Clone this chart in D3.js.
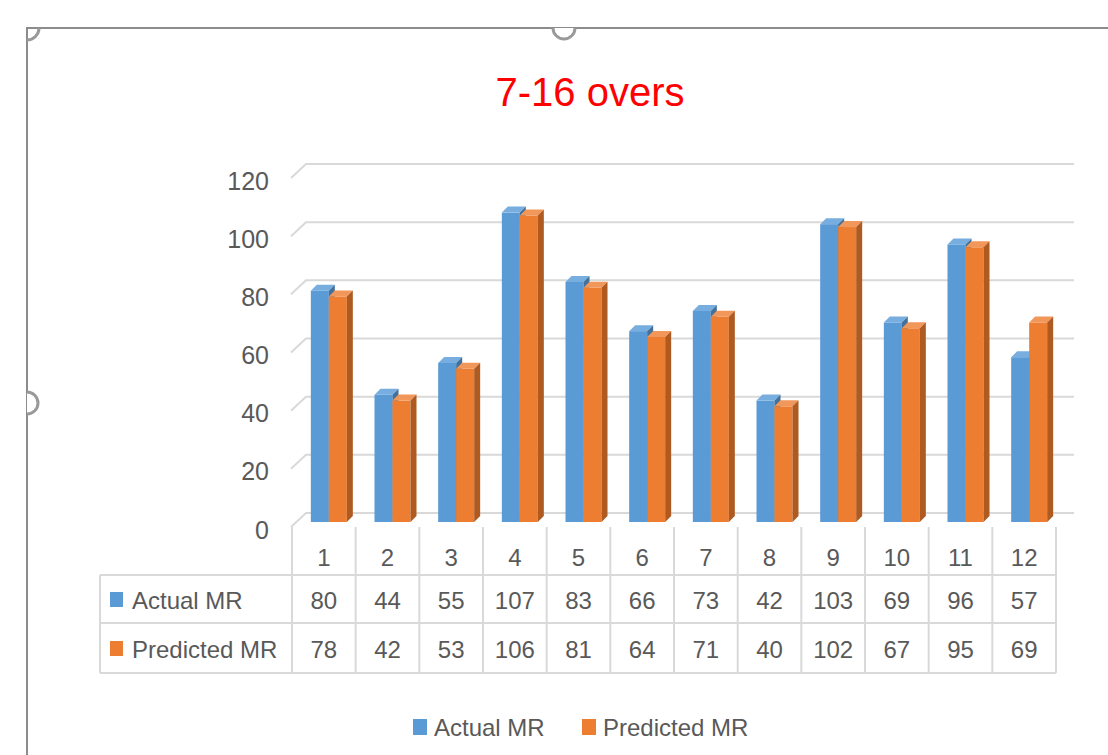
<!DOCTYPE html>
<html>
<head>
<meta charset="utf-8">
<script src="https://cdn.jsdelivr.net/npm/d3@7"></script>
<style>
	body { margin: 0; background: #fff; }
	svg text { font-family: "Liberation Sans", Arial, sans-serif; fill: #595959; }
</style>
</head>
<body>
<div id="picture"></div>
<script>
const categories = ["1", "2", "3", "4", "5", "6", "7", "8", "9", "10", "11", "12"]
	, actual     = [80, 44, 55, 107, 83, 66, 73, 42, 103, 69, 96, 57]
	, predicted  = [78, 42, 53, 106, 81, 64, 71, 40, 102, 67, 95, 69]
	, yTicks     = [0, 20, 40, 60, 80, 100, 120]
	, seriesNames = ["Actual MR", "Predicted MR"];

const width  = 1108
	, height = 755
	, depth  = { dx: 15, dy: -14 }   // wall depth (front -> back)
	, bDepth = { dx: 6,  dy: -6  }   // bar depth
	, barW   = 18
	, textDy = 3;                    // baseline nudge for "middle"

const series = [
	{ name: seriesNames[0], values: actual,    front: "#5b9bd5", top: "#77aedf", side: "#41719c" },
	{ name: seriesNames[1], values: predicted, front: "#ed7d31", top: "#f2975a", side: "#ae5a21" }
];

const svg = d3.select("#picture")
	.append("svg")
		.attr("width", width)
		.attr("height", height);

// scales
const x = d3.scaleBand()
	.domain(categories)
	.range([292, 1056]);
const yWall = d3.scaleLinear()      // front edge of the side wall
	.domain([0, 120])
	.range([527, 178]);
const yBar = d3.scaleLinear()       // front face of the bars
	.domain([0, 120])
	.range([522, 175]);

// gridlines (front edge, diagonal, back wall)
const grid = svg.append("g").attr("class", "grid");
yTicks.forEach(function(t) {
	const y0 = yWall(t);
	grid.append("path")
		.attr("d", "M291," + y0 + "L" + (291 + depth.dx) + "," + (y0 + depth.dy) + "L1074," + (y0 + depth.dy))
		.attr("fill", "none")
		.attr("stroke", "#d9d9d9")
		.attr("stroke-width", 2);
});

// value axis labels
svg.append("g")
	.attr("transform", "translate(269," + textDy + ")")
	.call(d3.axisLeft(yWall).tickValues(yTicks).tickSize(0).tickPadding(0))
	.call(g => g.select(".domain").remove())
	.call(g => g.selectAll("text")
		.attr("fill", "#595959")
		.style("font-size", "25px")
		.style("font-family", "'Liberation Sans', Arial, sans-serif"));

// bars
const bars = svg.append("g").attr("class", "bars");
series.forEach(function(s, i) {
	const g = bars.append("g");
	s.values.forEach(function(v, j) {
		const x0 = x(categories[j]) + x.bandwidth() / 2 - 13 + i * barW
			, y0 = yBar(v)
			, yb = yBar(0);
		g.append("rect")
			.attr("x", x0).attr("y", y0)
			.attr("width", barW).attr("height", yb - y0)
			.attr("fill", s.front);
		g.append("path")
			.attr("d", "M" + x0 + "," + y0 +
				"L" + (x0 + bDepth.dx) + "," + (y0 + bDepth.dy) +
				"L" + (x0 + barW + bDepth.dx) + "," + (y0 + bDepth.dy) +
				"L" + (x0 + barW) + "," + y0 + "Z")
			.attr("fill", s.top);
		g.append("path")
			.attr("d", "M" + (x0 + barW) + "," + y0 +
				"L" + (x0 + barW + bDepth.dx) + "," + (y0 + bDepth.dy) +
				"L" + (x0 + barW + bDepth.dx) + "," + (yb + bDepth.dy) +
				"L" + (x0 + barW) + "," + yb + "Z")
			.attr("fill", s.side);
	});
});

// data table
const rowTop = [527, 575, 623, 673]
	, tableLeft = 100
	, table = svg.append("g").attr("class", "table")
	, lineStyle = sel => sel.attr("stroke", "#d9d9d9").attr("stroke-width", 2);

x.domain().forEach(function(c) {
	table.append("line")
		.attr("x1", x(c)).attr("x2", x(c))
		.attr("y1", rowTop[0]).attr("y2", rowTop[3])
		.call(lineStyle);
});
table.append("line")
	.attr("x1", x.range()[1]).attr("x2", x.range()[1])
	.attr("y1", rowTop[0]).attr("y2", rowTop[3])
	.call(lineStyle);
table.append("line")
	.attr("x1", tableLeft).attr("x2", tableLeft)
	.attr("y1", rowTop[1]).attr("y2", rowTop[3])
	.call(lineStyle);
rowTop.slice(1).forEach(function(y) {
	table.append("line")
		.attr("x1", tableLeft).attr("x2", x.range()[1])
		.attr("y1", y).attr("y2", y)
		.call(lineStyle);
});

table.selectAll(".cat")
	.data(categories)
	.join("text")
		.attr("class", "cat")
		.attr("x", d => x(d) + x.bandwidth() / 2)
		.attr("y", 557 + textDy)
		.attr("text-anchor", "middle")
		.attr("dominant-baseline", "middle")
		.style("font-size", "24px")
		.text(d => d);

series.forEach(function(s, i) {
	const yc = (rowTop[i + 1] + rowTop[i + 2]) / 2 + 1;
	table.append("rect")
		.attr("x", 110).attr("y", yc - 8)
		.attr("width", 13).attr("height", 15)
		.attr("fill", s.front);
	table.append("text")
		.attr("x", 132).attr("y", yc + textDy)
		.attr("dominant-baseline", "middle")
		.style("font-size", "24px")
		.text(s.name);
	table.selectAll(".val" + i)
		.data(s.values)
		.join("text")
			.attr("x", (d, j) => x(categories[j]) + x.bandwidth() / 2)
			.attr("y", yc + textDy)
			.attr("text-anchor", "middle")
			.attr("dominant-baseline", "middle")
			.style("font-size", "24px")
			.text(d => d);
});

// legend
const legendPos = [413, 582];
series.forEach(function(s, i) {
	svg.append("rect")
		.attr("x", legendPos[i]).attr("y", 719)
		.attr("width", 14).attr("height", 16)
		.attr("fill", s.front);
	svg.append("text")
		.attr("x", legendPos[i] + 21).attr("y", 727 + textDy)
		.attr("dominant-baseline", "middle")
		.style("font-size", "24px")
		.text(s.name);
});

// title
svg.append("text")
	.attr("x", 590).attr("y", 92 + textDy)
	.attr("text-anchor", "middle")
	.attr("dominant-baseline", "middle")
	.style("font-size", "40px")
	.style("fill", "#ff0000")
	.text("7-16 overs");

// chart frame with selection handles
const frame = svg.append("g").attr("class", "frame");
frame.append("path")
	.attr("d", "M27," + height + "V28H" + width)
	.attr("fill", "none")
	.attr("stroke", "#8c8c8c")
	.attr("stroke-width", 2);
frame.append("path")
	.attr("d", "M39,28A12,12 0 0 1 27,40")
	.attr("fill", "none")
	.attr("stroke", "#999")
	.attr("stroke-width", 3);
frame.append("path")
	.attr("d", "M553,28A11,11 0 0 0 575,28")
	.attr("fill", "#fff")
	.attr("stroke", "#999")
	.attr("stroke-width", 3);
frame.append("path")
	.attr("d", "M27,392A11,11 0 0 1 27,414")
	.attr("fill", "#fff")
	.attr("stroke", "#999")
	.attr("stroke-width", 3);
</script>
</body>
</html>
